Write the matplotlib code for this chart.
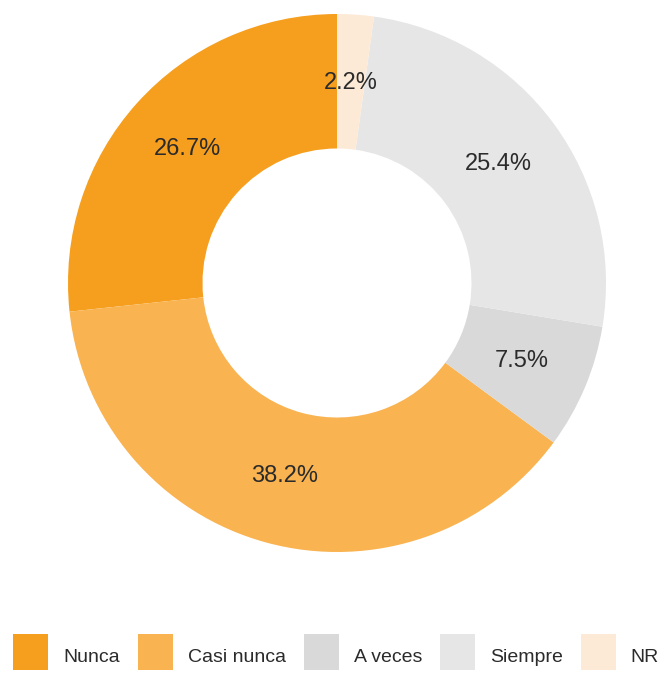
import matplotlib
matplotlib.use("Agg")
import matplotlib.pyplot as plt
from matplotlib.patches import Rectangle

categories = ["Nunca", "Casi nunca", "A veces", "Siempre", "NR"]
values = [26.7, 38.2, 7.5, 25.4, 2.2]
colors = ["#F69F1E", "#F9B350", "#D9D9D9", "#E6E6E6", "#FDEAD6"]

W, H = 666, 673
fig = plt.figure(figsize=(W / 100, H / 100), dpi=100)
plt.rcParams['font.family'] = ['Liberation Sans', 'DejaVu Sans']

cx, cy, R = 337, 283, 269
ax = fig.add_axes([(cx - R) / W, (H - cy - R) / H, 2 * R / W, 2 * R / H])
wedges, texts, autotexts = ax.pie(
    values, colors=colors, startangle=90, counterclock=True,
    autopct=lambda p: f"{p:.1f}%", pctdistance=0.745,
    wedgeprops=dict(width=0.5, linewidth=0),
    textprops=dict(fontsize=17, color="#2b2b2b"))
ax.set_xlim(-1, 1)
ax.set_ylim(-1, 1)
ax.set_aspect('auto')
ax.axis('off')

# Manual legend
fig.canvas.draw()
renderer = fig.canvas.get_renderer()
x = 13
sq_w, sq_h = 35, 36
for lab, col in zip(categories, colors):
    fig.patches.append(Rectangle((x / W, 3 / H), sq_w / W, sq_h / H,
                                 transform=fig.transFigure, color=col, lw=0))
    tx = x + sq_w + 15
    t = fig.text(tx / W, 11 / H, lab, fontsize=14, color="#2b2b2b",
                 va='baseline', ha='left')
    bb = t.get_window_extent(renderer=renderer)
    x = bb.x1 + 18

fig.savefig("out.png", dpi=100)
